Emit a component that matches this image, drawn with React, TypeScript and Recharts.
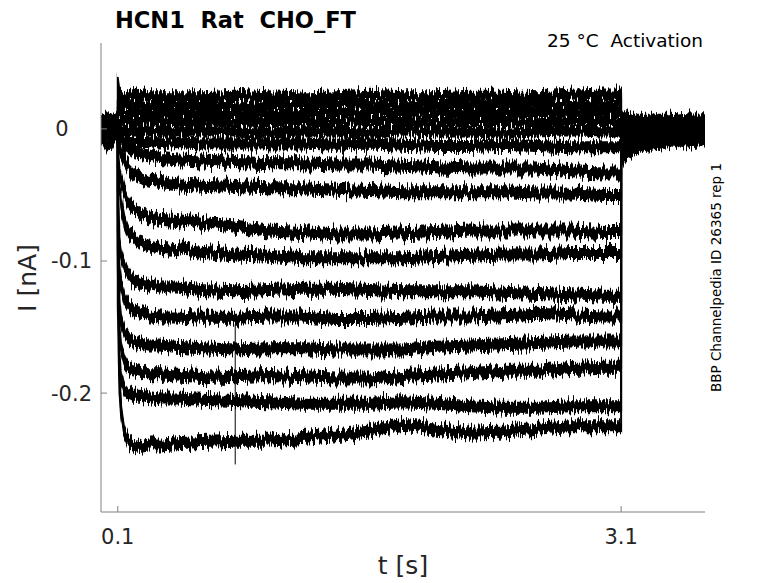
import React from 'react'
import { LineChart, Line, XAxis, YAxis } from 'recharts'

// sample times [s]; 0.1 and 3.1 appear twice for the voltage step edges
const TIME = [
  0, 0.04, 0.08, 0.1,
  0.1, 0.11, 0.12, 0.14, 0.16, 0.19, 0.23, 0.28, 0.35,
  0.45, 0.6, 0.8, 1.0, 1.2, 1.4, 1.6, 1.8, 2.0, 2.2, 2.4, 2.6, 2.8, 3.0,
  3.1,
  3.1, 3.11, 3.13, 3.17, 3.25, 3.4, 3.6,
]

// current [nA], one sweep per step potential
const sweep01 = [0.007, 0.008, 0.006, 0.007, 0.035, 0.024, 0.025, 0.024, 0.023, 0.024, 0.025, 0.024, 0.024, 0.024, 0.024, 0.025, 0.024, 0.023, 0.024, 0.025, 0.024, 0.024, 0.025, 0.025, 0.024, 0.025, 0.026, 0.026, 0.008, 0.008, 0.008, 0.007, 0.007, 0.007, 0.006]
const sweep02 = [0.006, 0.005, 0.006, 0.006, 0.018, 0.018, 0.017, 0.018, 0.019, 0.018, 0.018, 0.017, 0.018, 0.018, 0.018, 0.017, 0.018, 0.018, 0.019, 0.018, 0.017, 0.018, 0.018, 0.019, 0.018, 0.018, 0.019, 0.019, 0.006, 0.006, 0.005, 0.005, 0.005, 0.005, 0.005]
const sweep03 = [0.005, 0.004, 0.005, 0.005, 0.012, 0.012, 0.011, 0.012, 0.012, 0.013, 0.012, 0.011, 0.012, 0.011, 0.012, 0.012, 0.011, 0.012, 0.012, 0.013, 0.012, 0.011, 0.012, 0.012, 0.013, 0.012, 0.013, 0.013, 0.005, 0.005, 0.005, 0.004, 0.004, 0.004, 0.004]
const sweep04 = [0.004, 0.005, 0.003, 0.004, 0.006, 0.006, 0.005, 0.006, 0.006, 0.005, 0.006, 0.007, 0.006, 0.005, 0.006, 0.005, 0.006, 0.006, 0.005, 0.006, 0.006, 0.005, 0.006, 0.006, 0.005, 0.006, 0.006, 0.006, 0.003, 0.003, 0.003, 0.003, 0.002, 0.002, 0.002]
const sweep05 = [0.003, 0.003, 0.002, 0.003, -0.001, -0.001, -0.002, -0.002, -0.001, -0.002, -0.002, -0.001, -0.002, -0.002, -0.001, -0.002, -0.003, -0.002, -0.002, -0.003, -0.001, -0.002, -0.002, -0.003, -0.002, -0.001, -0.002, -0.002, 0.002, 0.002, 0.002, 0.002, 0.002, 0.001, 0.001]
const sweep06 = [0.002, 0.001, 0.002, 0.002, -0.008, -0.008, -0.009, -0.009, -0.010, -0.010, -0.010, -0.010, -0.011, -0.010, -0.011, -0.011, -0.011, -0.011, -0.012, -0.011, -0.012, -0.013, -0.013, -0.012, -0.013, -0.014, -0.014, -0.014, 0.000, 0.001, 0.000, 0.000, 0.000, 0.000, 0.000]
const sweep07 = [0.002, 0.002, 0.001, 0.002, -0.005, -0.007, -0.009, -0.012, -0.014, -0.017, -0.019, -0.020, -0.022, -0.023, -0.024, -0.025, -0.026, -0.026, -0.027, -0.027, -0.028, -0.029, -0.030, -0.030, -0.030, -0.032, -0.033, -0.033, -0.002, -0.002, -0.002, -0.002, -0.002, -0.002, -0.001]
const sweep08 = [0.001, 0.002, 0.001, 0.001, -0.008, -0.013, -0.018, -0.024, -0.029, -0.033, -0.036, -0.039, -0.040, -0.042, -0.043, -0.044, -0.045, -0.045, -0.046, -0.047, -0.048, -0.048, -0.048, -0.048, -0.049, -0.049, -0.050, -0.050, -0.005, -0.004, -0.003, -0.003, -0.002, -0.002, -0.002]
const sweep09 = [0.001, 0.000, 0.001, 0.001, -0.017, -0.032, -0.039, -0.049, -0.055, -0.060, -0.064, -0.066, -0.068, -0.069, -0.071, -0.074, -0.077, -0.078, -0.080, -0.080, -0.079, -0.078, -0.077, -0.077, -0.077, -0.077, -0.078, -0.078, -0.008, -0.006, -0.005, -0.005, -0.004, -0.003, -0.002]
const sweep10 = [0.000, 0.000, 0.001, 0.000, -0.024, -0.047, -0.057, -0.070, -0.077, -0.082, -0.086, -0.088, -0.090, -0.091, -0.093, -0.095, -0.096, -0.098, -0.098, -0.098, -0.098, -0.097, -0.096, -0.095, -0.095, -0.094, -0.094, -0.094, -0.010, -0.008, -0.007, -0.006, -0.005, -0.004, -0.003]
const sweep11 = [-0.001, -0.001, 0.000, -0.001, -0.039, -0.085, -0.094, -0.104, -0.109, -0.114, -0.117, -0.118, -0.120, -0.120, -0.122, -0.123, -0.122, -0.121, -0.121, -0.122, -0.123, -0.123, -0.123, -0.124, -0.125, -0.126, -0.127, -0.127, -0.013, -0.011, -0.009, -0.008, -0.006, -0.005, -0.005]
const sweep12 = [-0.002, -0.001, -0.002, -0.002, -0.055, -0.108, -0.119, -0.129, -0.134, -0.138, -0.139, -0.141, -0.142, -0.142, -0.143, -0.143, -0.142, -0.142, -0.144, -0.144, -0.143, -0.142, -0.142, -0.141, -0.140, -0.141, -0.142, -0.142, -0.015, -0.013, -0.011, -0.009, -0.008, -0.006, -0.005]
const sweep13 = [-0.002, -0.003, -0.002, -0.002, -0.070, -0.130, -0.144, -0.153, -0.158, -0.161, -0.162, -0.164, -0.164, -0.165, -0.166, -0.167, -0.166, -0.166, -0.167, -0.167, -0.167, -0.165, -0.164, -0.163, -0.162, -0.161, -0.161, -0.161, -0.018, -0.015, -0.013, -0.011, -0.008, -0.007, -0.006]
const sweep14 = [-0.003, -0.003, -0.004, -0.003, -0.085, -0.153, -0.167, -0.176, -0.180, -0.182, -0.183, -0.185, -0.185, -0.186, -0.187, -0.188, -0.187, -0.188, -0.189, -0.189, -0.187, -0.186, -0.185, -0.183, -0.183, -0.181, -0.180, -0.180, -0.021, -0.017, -0.014, -0.012, -0.010, -0.008, -0.007]
const sweep15 = [-0.005, -0.004, -0.005, -0.005, -0.100, -0.172, -0.189, -0.197, -0.200, -0.202, -0.202, -0.203, -0.204, -0.204, -0.205, -0.206, -0.207, -0.208, -0.208, -0.208, -0.207, -0.208, -0.210, -0.211, -0.211, -0.210, -0.210, -0.210, -0.024, -0.020, -0.016, -0.014, -0.011, -0.008, -0.008]
const sweep16 = [-0.005, -0.014, -0.006, -0.005, -0.130, -0.195, -0.214, -0.230, -0.236, -0.239, -0.240, -0.239, -0.239, -0.238, -0.237, -0.236, -0.236, -0.234, -0.232, -0.229, -0.224, -0.227, -0.230, -0.229, -0.227, -0.225, -0.225, -0.225, -0.028, -0.023, -0.018, -0.015, -0.012, -0.009, -0.008]

const sweeps = [sweep01, sweep02, sweep03, sweep04, sweep05, sweep06, sweep07, sweep08, sweep09, sweep10, sweep11, sweep12, sweep13, sweep14, sweep15, sweep16]

// single glitch seen at t = 0.8 s
const glitchTime = [0.8, 0.8]
const glitchValue = [-0.148, -0.254]

const X_TICKS = [0.1, 3.1]
const Y_TICKS = [-0.2, -0.1, 0]

const W = 770
const H = 575
const PLOT_BOTTOM = 504
const PLOT_LEFT = 93
const AXIS = '#808080'
const INK = '#262626'
const FONT = 'DejaVu Sans'

const sweepData = sweeps.map((s) => TIME.map((t, k) => ({ t, i: s[k] })))
const glitchData = glitchTime.map((t, k) => ({ t, i: glitchValue[k] }))

function XTick(props: any) {
  const { x, payload } = props
  return (
    <g>
      <line x1={x} x2={x} y1={PLOT_BOTTOM} y2={PLOT_BOTTOM - 6} stroke={AXIS} />
      <text x={x} y={536} textAnchor="middle" fontFamily={FONT} fontSize={21} fill={INK}>
        {String(payload.value)}
      </text>
    </g>
  )
}

function YTick(props: any) {
  const { y, payload } = props
  const zero = payload.value === 0
  return (
    <g>
      <line x1={PLOT_LEFT} x2={PLOT_LEFT + 6} y1={y} y2={y} stroke={AXIS} />
      <text
        x={zero ? 54 : 84}
        y={y + 7.5}
        textAnchor={zero ? 'middle' : 'end'}
        fontFamily={FONT}
        fontSize={21}
        fill={INK}
      >
        {String(payload.value)}
      </text>
    </g>
  )
}

// recording noise is drawn as a filter: vertical smear, then jagged vertical jitter
const SEEDS = [3, 11, 19, 27]

export default function App() {
  return (
    <div style={{ position: 'relative', width: W, height: H, fontFamily: FONT }}>
      <style>{SEEDS.map((_, k) => `.nz${k} path { filter: url(#nz${k}); }`).join('\n')}</style>
      <svg width={0} height={0} style={{ position: 'absolute' }}>
        <defs>
          {SEEDS.map((seed, k) => (
            <filter key={k} id={`nz${k}`} filterUnits="userSpaceOnUse" x={0} y={0} width={W} height={H}>
              <feMorphology in="SourceGraphic" operator="dilate" radius="0 4.5" result="thick" />
              <feTurbulence type="fractalNoise" baseFrequency="0.6 0.015" numOctaves={3} seed={seed} result="n" />
              <feColorMatrix in="n" type="matrix" values="0 0 0 0 0.5  0 1 0 0 0  0 0 0 0 0  0 0 0 0 1" result="m" />
              <feDisplacementMap in="thick" in2="m" scale={17} xChannelSelector="R" yChannelSelector="G" />
            </filter>
          ))}
        </defs>
      </svg>
      <LineChart width={W} height={H} margin={{ top: 35, right: 73, bottom: 41, left: 33 }}>
        <XAxis
          type="number"
          dataKey="t"
          domain={[0, 3.6]}
          ticks={X_TICKS}
          interval={0}
          allowDataOverflow
          height={30}
          axisLine={{ stroke: AXIS }}
          tickLine={false}
          tick={(p: any) => <XTick {...p} />}
        />
        <YAxis
          type="number"
          domain={[-0.29, 0.065]}
          ticks={Y_TICKS}
          interval={0}
          allowDataOverflow
          width={60}
          axisLine={{ stroke: AXIS }}
          tickLine={false}
          tick={(p: any) => <YTick {...p} />}
        />
        {sweepData.map((d, k) => (
          <Line
            key={k}
            data={d}
            dataKey="i"
            type="linear"
            className={`nz${k % 4}`}
            stroke="#000"
            strokeWidth={2}
            strokeLinejoin="round"
            dot={false}
            activeDot={false}
            isAnimationActive={false}
          />
        ))}
        <Line data={glitchData} dataKey="i" stroke="#000" strokeWidth={1} dot={false} isAnimationActive={false} />
      </LineChart>
      <svg width={778} height={583} style={{ position: 'absolute', left: -8, top: -8, pointerEvents: 'none' }}>
        <text x={115} y={27.5} fontFamily={FONT} fontWeight="bold" fontSize={22.5} fill="#000" style={{ whiteSpace: 'pre' }}>
          {'HCN1  Rat  CHO_FT'}
        </text>
        <text x={703} y={47} textAnchor="end" fontFamily={FONT} fontSize={18.5} fill="#000" style={{ whiteSpace: 'pre' }}>
          {'25 °C  Activation'}
        </text>
        <text
          x={721}
          y={277.5}
          textAnchor="middle"
          transform="rotate(-90 721 277.5)"
          fontFamily={FONT}
          fontSize={13.5}
          fill="#000"
        >
          BBP Channelpedia ID 26365 rep 1
        </text>
        <text x={403} y={574} textAnchor="middle" fontFamily={FONT} fontSize={25} fill={INK}>
          t [s]
        </text>
        <text
          x={36}
          y={278}
          textAnchor="middle"
          transform="rotate(-90 36 278)"
          fontFamily={FONT}
          fontSize={25}
          fill={INK}
        >
          I [nA]
        </text>
      </svg>
    </div>
  )
}
